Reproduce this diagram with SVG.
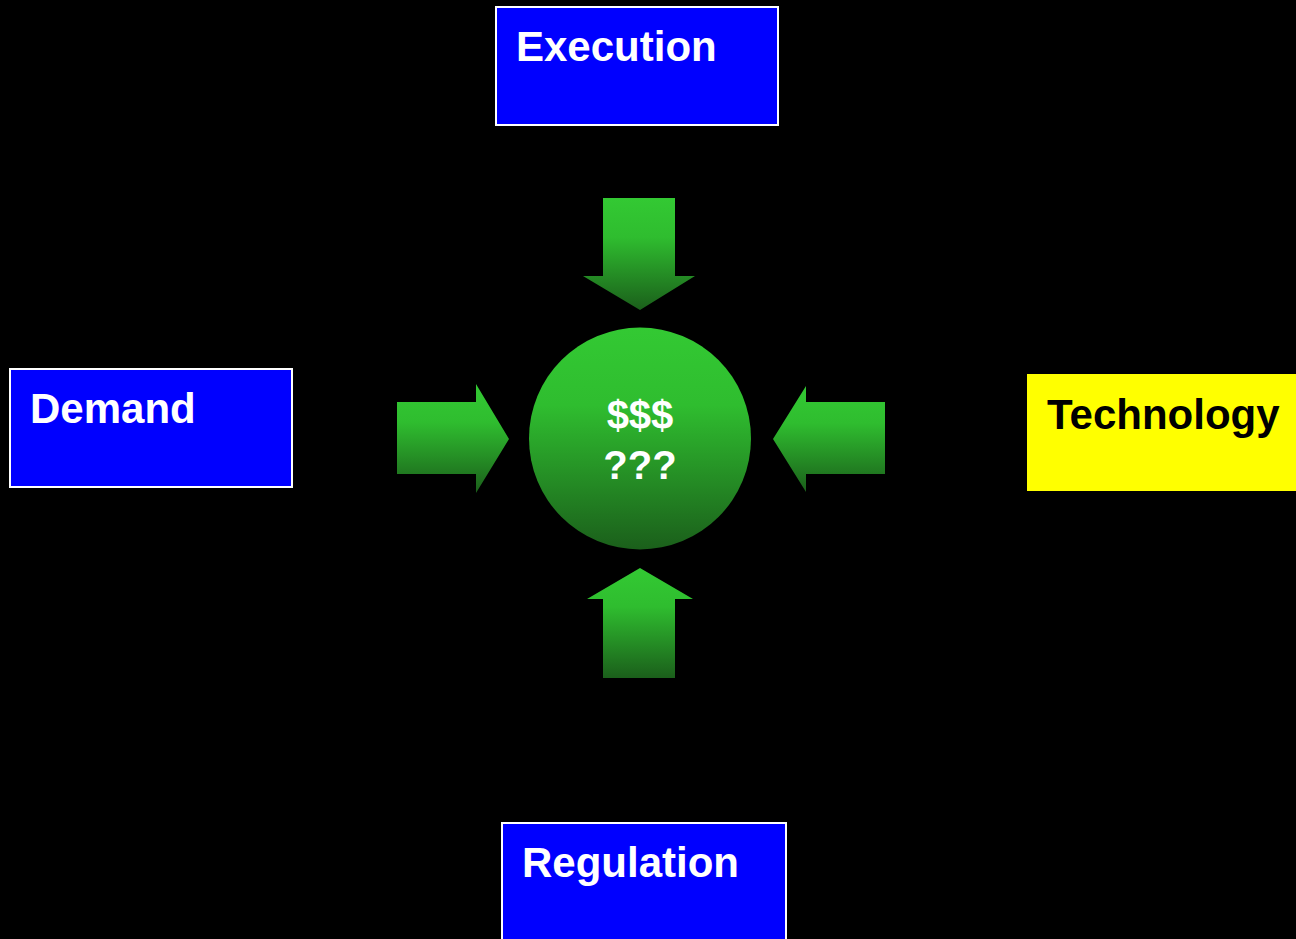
<svg xmlns="http://www.w3.org/2000/svg" width="1296" height="939" viewBox="0 0 1296 939">
<defs>
<linearGradient id="g" x1="0" y1="0" x2="0" y2="1">
<stop offset="0" stop-color="#33c933"/>
<stop offset="0.35" stop-color="#2fbd2f"/>
<stop offset="1" stop-color="#1b5f1b"/>
</linearGradient>
<style>
.box{fill:#0000ff;stroke:#ffffff;stroke-width:2}
.lbl{font-family:"Liberation Sans",Arial,sans-serif;font-weight:bold;font-size:42px;fill:#ffffff}
.arr{fill:url(#g)}
.ctr{font-family:"Liberation Sans",Arial,sans-serif;font-weight:bold;font-size:40px;fill:#ffffff;text-anchor:middle}
</style>
</defs>
<rect width="1296" height="939" fill="#000000"/>
<g id="connectors">
<polygon class="arr" points="603,198 675,198 675,276 695,276 640,310 583,276 603,276"/>
<polygon class="arr" points="397,402 476,402 476,384 509,439 476,493 476,474 397,474"/>
<polygon class="arr" points="885,402 806,402 806,386 773,439 806,492 806,474 885,474"/>
<polygon class="arr" points="603,678 675,678 675,599 693,599 640,568 587,599 603,599"/>
</g>
<g id="center">
<circle cx="640" cy="438.5" r="111" fill="url(#g)"/>
<text class="ctr" x="640" y="429">$$$</text>
<text class="ctr" x="640" y="479">???</text>
</g>
<g id="execution">
<rect class="box" x="496" y="7" width="282" height="118"/>
<text class="lbl" x="516" y="61">Execution</text>
</g>
<g id="demand">
<rect class="box" x="10" y="369" width="282" height="118"/>
<text class="lbl" x="30" y="423">Demand</text>
</g>
<g id="technology">
<rect x="1027" y="374" width="275" height="117" fill="#ffff00"/>
<text class="lbl" x="1047" y="429" fill="#000000" style="fill:#000000">Technology</text>
</g>
<g id="regulation">
<rect class="box" x="502" y="823" width="284" height="125"/>
<text class="lbl" x="522" y="877">Regulation</text>
</g>
</svg>
